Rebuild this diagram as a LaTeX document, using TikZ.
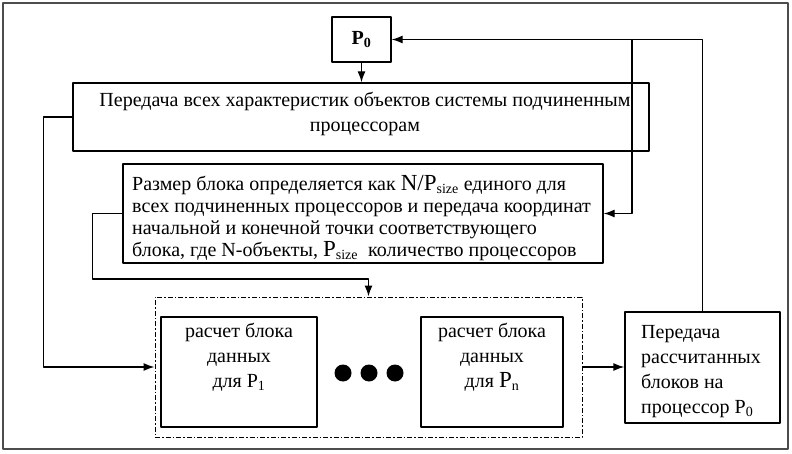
\documentclass[tikz,border=0pt]{standalone}
\usepackage{fontspec}
\setmainfont{Liberation Serif}
\usetikzlibrary{arrows.meta,positioning}
\newcommand{\bigP}[1]{{\fontsize{23}{24}\selectfont #1}}
\begin{document}
\begin{tikzpicture}[x=1pt,y=-1pt,>={Latex[length=11pt,width=8pt]},line join=round,
  blk/.style={draw,line width=1.3pt,inner sep=0pt},
  txt/.style={inner sep=0pt,font=\fontsize{20}{25}\selectfont},
  grpbox/.style={draw,line width=1pt,dash pattern=on 5pt off 2pt on 1.5pt off 2pt},
  link/.style={line width=1.3pt}]
\useasboundingbox (0,0) rectangle (792,454);
\draw[line width=1.8pt,draw=black!70] (3,3) rectangle (788,449);
% master and broadcast
\node[blk,minimum width=59,minimum height=45,font=\fontsize{20}{24}\selectfont\bfseries] (p0) at (361.5,39.5) {P\textsubscript{0}};
\node[blk,minimum width=576,minimum height=68] (send) at (361,117) {};
\node[txt,align=center,below=10pt of send.north,xshift=4pt] (sendtxt) {Передача всех характеристик объектов системы подчиненным\\процессорам};
\node[blk,minimum width=480,minimum height=99] (split) at (363,213.5) {};
\node[txt,anchor=north west,align=left,font=\fontsize{20}{22}\selectfont] (splittxt) at (132,175) {Размер блока определяется как \bigP{N/P}\textsubscript{size} единого для\\
  всех подчиненных процессоров и передача координат\\
  начальной и конечной точки соответствующего\\
  блока, где N-объекты, \bigP{P}\textsubscript{size}\ \ количество процессоров};
% workers
\node[grpbox,minimum width=427,minimum height=140] (grp) at (368.5,367) {};
\node[blk,minimum width=156,minimum height=110] (c1) at (239,372) {};
\node[txt,align=center,below=7pt of c1.north] (c1txt) {расчет блока\\данных\\для P\textsubscript{1}};
\node[blk,minimum width=142,minimum height=110] (cn) at (492,372) {};
\node[txt,align=center,below=7pt of cn.north] (cntxt) {расчет блока\\данных\\для \bigP{P}\textsubscript{n}};
\foreach \x in {343,369,395} \fill (\x,373) circle (8.5);
\node[blk,minimum width=155,minimum height=111] (res) at (702.5,367.5) {};
\node[txt,anchor=north west,align=left] (restxt) at (641,325) {Передача\\рассчитанных\\блоков на\\процессор P\textsubscript{0}};
% connectors
\coordinate (j) at (632,39.5);
\coordinate (k) at (368.5,279);
\draw[link,->] (p0) -- (p0 |- send.north);
\draw[link,->] (res.north) |- (p0.east);
\draw[link,->] (j) |- (split.east);
\draw[link,->] (send.west) -- ++(-29,0) |- (grp.west);
\draw[link,->] (split.west) -- ++(-30,0) |- (k) -- (grp.north);
\draw[link,->] (grp.east) -- (res.west |- grp.east);
\end{tikzpicture}
\end{document}
